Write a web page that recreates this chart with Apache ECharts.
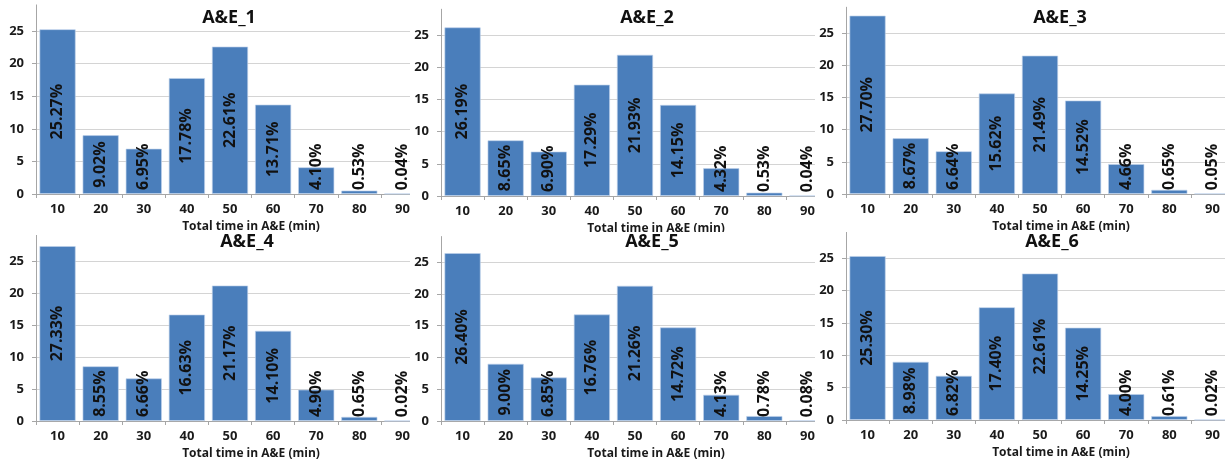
<!DOCTYPE html>
<html><head><meta charset="utf-8">
<script src="https://cdn.jsdelivr.net/npm/echarts@6/dist/echarts.min.js"></script>
<style>
html,body{margin:0;padding:0;background:#fff;width:1225px;height:461px;overflow:hidden;position:relative}
.wrap{position:absolute;overflow:hidden}
.chart{position:absolute;width:440px;height:245px}
</style></head><body>
<script>
// ---- data ----
const categories = ['10','20','30','40','50','60','70','80','90'];
const ae1 = [25.27, 9.02, 6.95, 17.78, 22.61, 13.71, 4.10, 0.53, 0.04];
const ae2 = [26.19, 8.65, 6.90, 17.29, 21.93, 14.15, 4.32, 0.53, 0.04];
const ae3 = [27.70, 8.67, 6.64, 15.62, 21.49, 14.52, 4.66, 0.65, 0.05];
const ae4 = [27.33, 8.55, 6.66, 16.63, 21.17, 14.10, 4.90, 0.65, 0.02];
const ae5 = [26.40, 9.00, 6.85, 16.76, 21.26, 14.72, 4.13, 0.78, 0.08];
const ae6 = [25.30, 8.98, 6.82, 17.40, 22.61, 14.25, 4.00, 0.61, 0.02];
const titles = ['A&E_1','A&E_2','A&E_3','A&E_4','A&E_5','A&E_6'];
const xAxisName = 'Total time in A&E (min)';
const seriesValues = [ae1, ae2, ae3, ae4, ae5, ae6];

// ---- layout ----
const originX = [0, 405, 810, 0, 405, 810];
const originY = [0, 0, 0, 225, 225, 225];
const clipRect = [[0,0,410,232],[410,0,405,232],[815,0,410,232],[0,232,410,229],[410,232,405,229],[815,232,410,229]];
const zeroY = [194, 196, 194, 196, 196, 195];
const unitPx = [6.52, 6.44, 6.44, 6.40, 6.36, 6.48];
const titleCX = [229, 242, 250, 247, 247, 242];
const titleCY = [18, 18, 18, 17, 17, 17];
const yMax = 29;
const FONT = '"Open Sans", Lato, sans-serif';
const labelFontSize = 16;

const mctx = document.createElement('canvas').getContext('2d');
mctx.font = 'bold ' + labelFontSize + 'px "Open Sans"';
const fmt = v => v.toFixed(2) + '%';

seriesValues.forEach((vals, i) => {
  const c = clipRect[i];
  const wrap = document.createElement('div');
  wrap.className = 'wrap';
  wrap.style.left = c[0] + 'px'; wrap.style.top = c[1] + 'px';
  wrap.style.width = c[2] + 'px'; wrap.style.height = c[3] + 'px';
  document.body.appendChild(wrap);
  const el = document.createElement('div');
  el.className = 'chart';
  el.style.left = (originX[i] - c[0]) + 'px';
  el.style.top = (originY[i] - c[1]) + 'px';
  wrap.appendChild(el);
  const chart = echarts.init(el, null, {renderer: 'canvas'});
  const unit = unitPx[i];
  const gridH = yMax * unit;
  const gridTop = zeroY[i] - gridH;
  const data = vals.map(v => {
    const h = v * unit;
    const tw = mctx.measureText(fmt(v)).width;
    const centered = h / 2 - tw / 2 >= 4;
    return {
      value: v,
      label: centered
        ? {position: 'inside', align: 'center', verticalAlign: 'middle'}
        : {position: 'insideBottom', align: 'left', verticalAlign: 'middle', distance: 4}
    };
  });
  chart.setOption({
    animation: false,
    backgroundColor: 'transparent',
    title: {
      text: titles[i], left: titleCX[i], top: titleCY[i] - 9, textAlign: 'center', padding: 0,
      textStyle: {fontFamily: FONT, fontSize: 18, fontWeight: 'bold', color: '#111'}
    },
    grid: {left: 36, top: gridTop, width: 388, height: gridH},
    xAxis: {
      type: 'category', data: categories,
      axisLine: {lineStyle: {color: '#a6a6a6', width: 1}},
      axisTick: {show: true, length: 4, lineStyle: {color: '#a6a6a6'}},
      axisLabel: {fontFamily: FONT, fontSize: 13, fontWeight: 'bold', color: '#1a1a1a', margin: 9},
      name: xAxisName, nameLocation: 'middle', nameGap: 27,
      nameTextStyle: {fontFamily: FONT, fontSize: 12, fontWeight: 'bold', color: '#1a1a1a', padding: [0, 0, 0, 42]}
    },
    yAxis: {
      type: 'value', min: 0, max: yMax, interval: 5,
      axisLine: {show: true, lineStyle: {color: '#a6a6a6', width: 1}},
      axisTick: {show: true, length: 4, lineStyle: {color: '#a6a6a6'}},
      axisLabel: {fontFamily: FONT, fontSize: 13, fontWeight: 'bold', color: '#1a1a1a', margin: 12, showMaxLabel: false,
        formatter: v => (v % 5 === 0 ? String(v) : '')},
      splitLine: {show: true, showMaxLine: false, lineStyle: {color: '#d4d4d4', width: 1}}
    },
    series: [{
      type: 'bar', data: data, barCategoryGap: '16%',
      itemStyle: {color: '#4a7ebb', borderColor: 'rgba(190,210,235,0.8)', borderWidth: 0.8},
      label: {
        show: true, rotate: 90, formatter: p => fmt(p.value),
        fontFamily: FONT, fontSize: labelFontSize, fontWeight: 'bold', color: '#111'
      }
    }]
  });
});
</script>
</body></html>
